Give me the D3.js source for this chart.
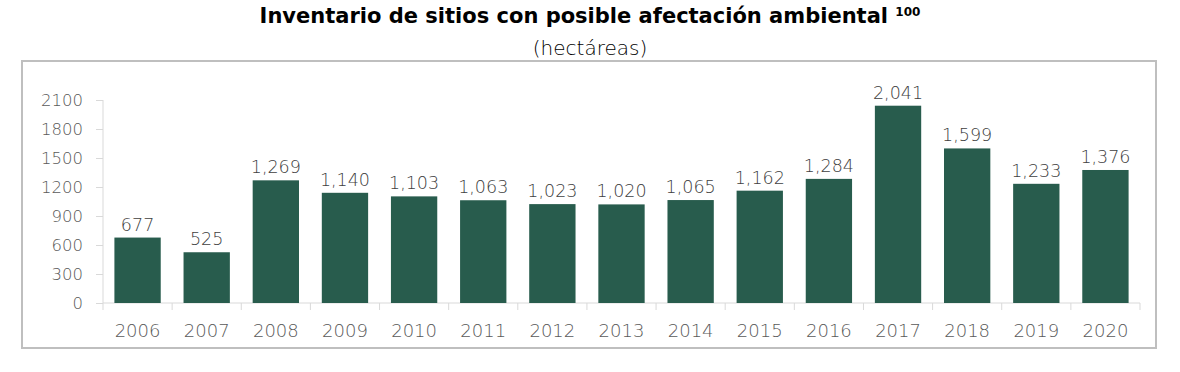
<!DOCTYPE html>
<html>
<head>
<meta charset="utf-8">
<script src="https://cdn.jsdelivr.net/npm/d3@7"></script>
<style>
  body { margin: 0; background: #fff; }
  svg { font-family: "DejaVu Sans", "Open Sans", sans-serif; }
</style>
</head>
<body>
<svg id="chart" width="1180" height="372"></svg>
<script>
const years = ["2006", "2007", "2008", "2009", "2010", "2011", "2012", "2013", "2014", "2015", "2016", "2017", "2018", "2019", "2020"];
const hectares = [677, 525, 1269, 1140, 1103, 1063, 1023, 1020, 1065, 1162, 1284, 2041, 1599, 1233, 1376];
const yTicks = [0, 300, 600, 900, 1200, 1500, 1800, 2100];

const svg = d3.select("#chart");

// frame around the plot
svg.append("rect")
  .attr("x", 22).attr("y", 61)
  .attr("width", 1134).attr("height", 287)
  .attr("fill", "none")
  .attr("stroke", "#bfbfbf")
  .attr("stroke-width", 2);

// title
const title = svg.append("text")
  .attr("x", 590).attr("y", 23)
  .attr("text-anchor", "middle")
  .attr("font-size", 21)
  .attr("font-weight", "bold")
  .attr("fill", "#000");
title.append("tspan").text("Inventario de sitios con posible afectación ambiental ");
title.append("tspan").attr("font-size", 12).attr("dy", -7).text("100");

svg.append("text")
  .attr("x", 590).attr("y", 55)
  .attr("text-anchor", "middle")
  .attr("font-size", 20)
  .attr("font-weight", 300)
  .attr("fill", "#000")
  .text("(hectáreas)");

const x = d3.scaleBand()
  .domain(years)
  .range([103, 1140])
  .paddingInner(0.33)
  .paddingOuter(0.165);

const y = d3.scaleLinear()
  .domain([0, 2100])
  .range([303, 100]);

// y axis
const yAxis = svg.append("g")
  .attr("transform", "translate(103,0)")
  .call(d3.axisLeft(y).tickValues(yTicks).tickSize(7).tickPadding(13).tickFormat(d3.format("d")))
  .attr("font-family", null);
yAxis.selectAll("line, path").attr("stroke", "#d9d9d9");
yAxis.select(".domain").attr("d", "M0,100V303");
yAxis.selectAll("text").attr("font-size", 16.5).attr("font-weight", 300).attr("fill", "#595959");

// x axis with ticks on band boundaries
const xAxis = svg.append("g")
  .attr("transform", "translate(0,303)")
  .call(d3.axisBottom(x).tickSize(0).tickPadding(21))
  .attr("font-family", null);
xAxis.select(".domain").attr("stroke", "#d9d9d9").attr("d", "M103,0H1140");
xAxis.selectAll("text").attr("font-size", 18).attr("font-weight", 300).attr("fill", "#595959");

const step = x.step();
svg.append("g")
  .selectAll("line")
  .data(d3.range(years.length + 1))
  .join("line")
  .attr("x1", i => 103 + i * step)
  .attr("x2", i => 103 + i * step)
  .attr("y1", 303).attr("y2", 310)
  .attr("stroke", "#d9d9d9");

// bars
svg.append("g")
  .selectAll("rect")
  .data(hectares)
  .join("rect")
  .attr("x", (d, i) => x(years[i]))
  .attr("y", d => y(d))
  .attr("width", x.bandwidth())
  .attr("height", d => y(0) - y(d))
  .attr("fill", "#285c4d");

// value labels
svg.append("g")
  .selectAll("text")
  .data(hectares)
  .join("text")
  .attr("x", (d, i) => x(years[i]) + x.bandwidth() / 2)
  .attr("y", d => y(d) - 7)
  .attr("text-anchor", "middle")
  .attr("font-size", 17.5)
  .attr("font-weight", 300)
  .attr("fill", "#404040")
  .text(d => d3.format(",")(d));
</script>
</body>
</html>
